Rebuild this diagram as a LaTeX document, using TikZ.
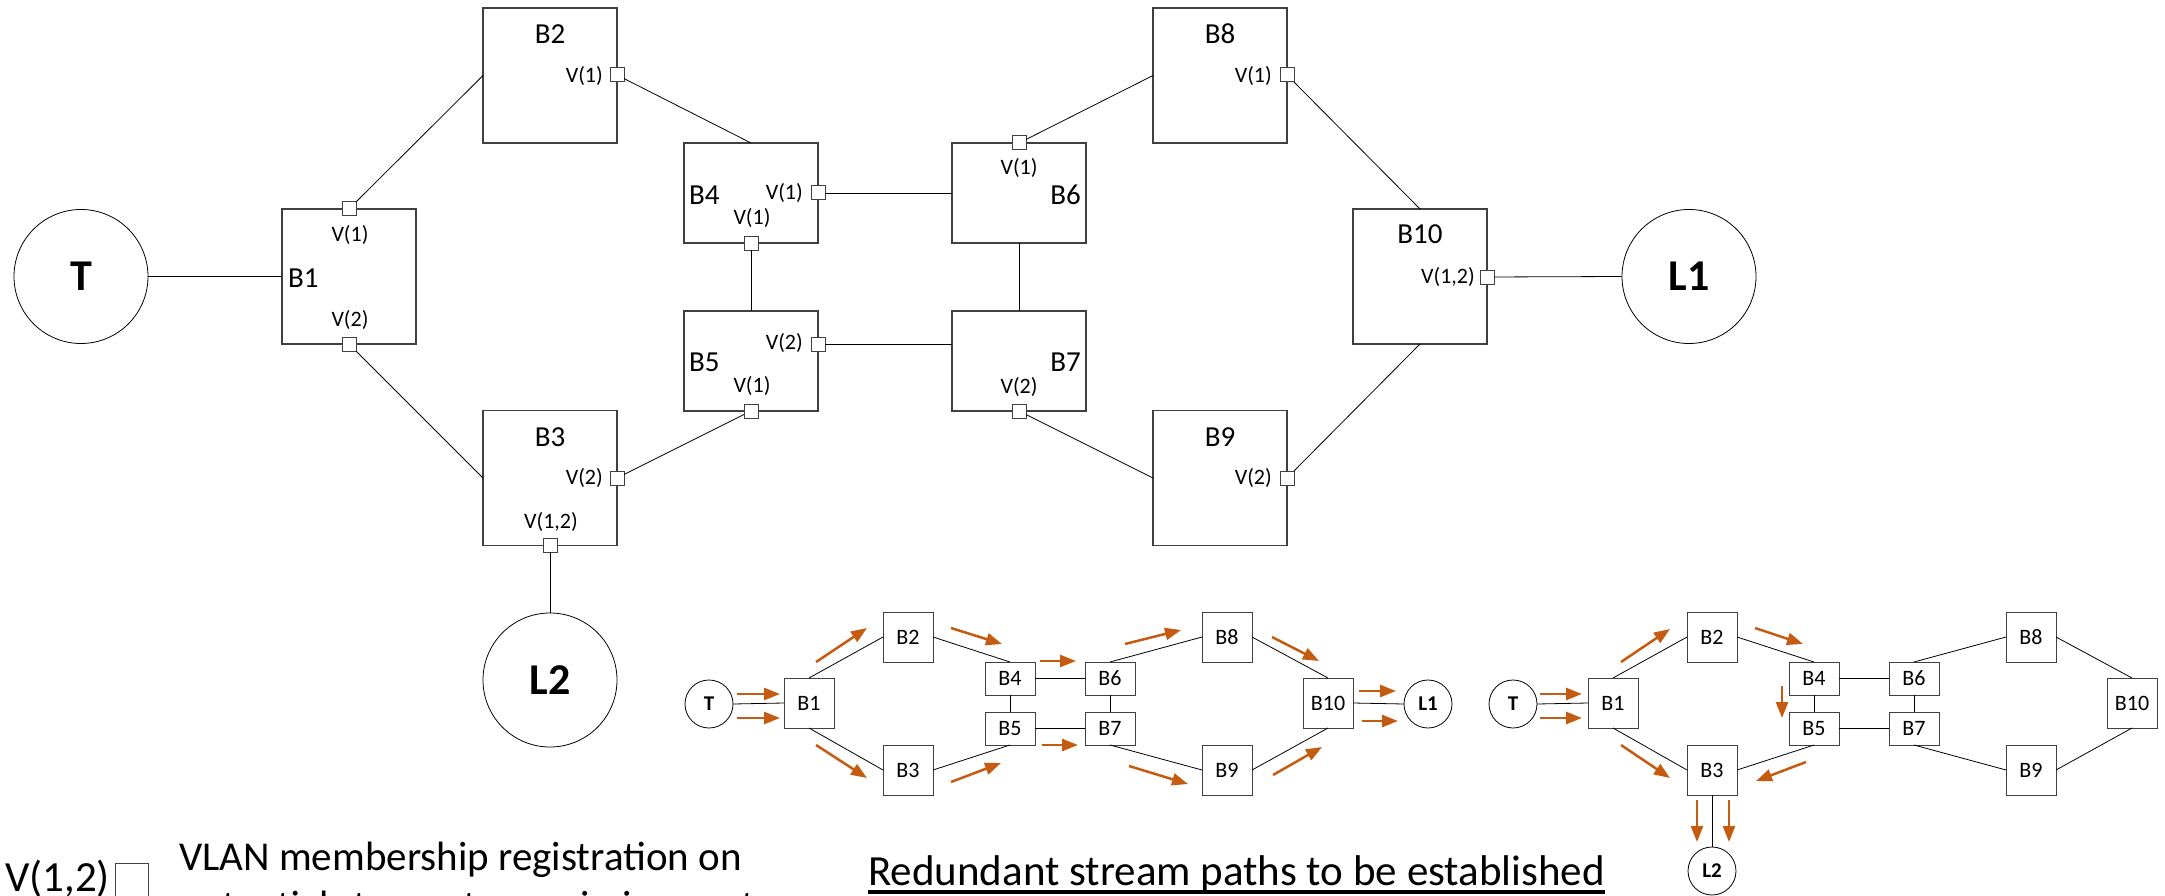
\documentclass[tikz,border=0pt]{standalone}
\usepackage{fontspec}
\setmainfont{Carlito}
\usetikzlibrary{arrows.meta}
\definecolor{flowc}{HTML}{C55A11}
\definecolor{edgec}{HTML}{404040}
\newcommand\smallnet{%
  \node[sep] (T) at (709,704) {T};
  \node[sbox] (B1) at (809,703) {B1};
  \node[sbox] (B2) at (908,637) {B2};
  \node[sbox] (B3) at (908,770) {B3};
  \node[smbox] (B4) at (1010,678.5) {B4};
  \node[smbox] (B5) at (1010,728.5) {B5};
  \node[smbox] (B6) at (1110,678.5) {B6};
  \node[smbox] (B7) at (1110,728.5) {B7};
  \node[sbox] (B8) at (1227,637) {B8};
  \node[sbox] (B9) at (1227,770) {B9};
  \node[sbox] (B10) at (1328,703) {B10};
  \draw[slink] (T.east) -- (B1.west);
  \draw[slink] (B1.north) -- (B2.west);
  \draw[slink] (B1.south) -- (B3.west);
  \draw[slink] (B2.east) -- (B4.north);
  \draw[slink] (B3.east) -- (B5.south);
  \draw[slink] (B4.east) -- (B6.west);
  \draw[slink] (B4.south) -- (B5.north);
  \draw[slink] (B5.east) -- (B7.west);
  \draw[slink] (B6.south) -- (B7.north);
  \draw[slink] (B6.north) -- (B8.west);
  \draw[slink] (B7.south) -- (B9.west);
  \draw[slink] (B8.east) -- (B10.north);
  \draw[slink] (B9.east) -- (B10.south);
}
\begin{document}
\begin{tikzpicture}[x=1pt,y=-1pt,
  bigbox/.style={draw=edgec,line width=1.3pt,minimum width=134pt,minimum height=135pt,inner sep=0pt,outer sep=0pt},
  midbox/.style={bigbox,minimum height=100pt},
  endpt/.style={circle,draw,line width=0.8pt,minimum size=134pt,inner sep=0pt,font=\fontsize{44}{52}\selectfont\bfseries},
  port/.style={draw=edgec,fill=white,line width=1pt,minimum size=14pt,inner sep=0pt,outer sep=0pt},
  lbl/.style={font=\fontsize{29}{34}\selectfont,inner sep=0pt},
  plbl/.style={font=\fontsize{22}{26}\selectfont,inner sep=0pt},
  link/.style={line width=0.8pt},
  sbox/.style={draw=edgec,line width=1pt,minimum width=50pt,minimum height=50pt,inner sep=0pt,outer sep=0pt,font=\fontsize{22}{26}\selectfont},
  smbox/.style={sbox,minimum height=33pt},
  sep/.style={circle,draw,line width=0.8pt,minimum size=48pt,inner sep=0pt,outer sep=0pt,font=\fontsize{21}{25}\selectfont\bfseries},
  slink/.style={line width=0.8pt},
  flow/.style={flowc,line width=2.5pt,-{Triangle[length=16pt,width=12pt]}},
  big/.style={font=\fontsize{41}{49}\selectfont,inner sep=0pt}
]
\useasboundingbox (0,0) rectangle (2165,896);
\clip (0,0) rectangle (2165,896);

% ---------- main network ----------
\node[endpt] (T) at (81,276.5) {T};
\node[bigbox] (B1) at (349,276.5) {};
\node[bigbox] (B2) at (550,75.5) {};
\node[bigbox] (B3) at (550,478) {};
\node[midbox] (B4) at (751,193) {};
\node[midbox] (B5) at (751,361) {};
\node[midbox] (B6) at (1019,193) {};
\node[midbox] (B7) at (1019,361) {};
\node[bigbox] (B8) at (1220,75.5) {};
\node[bigbox] (B9) at (1220,478) {};
\node[bigbox] (B10) at (1420,276.5) {};
\node[endpt] (L1) at (1689,276.5) {L1};
\node[endpt] (L2) at (550,680) {L2};

\node[lbl,anchor=west] (B1t) at (288,278) {B1};
\node[lbl] (B2t) at (550,34) {B2};
\node[lbl] (B3t) at (550,437) {B3};
\node[lbl,anchor=west] (B4t) at (689,195) {B4};
\node[lbl,anchor=west] (B5t) at (689,362) {B5};
\node[lbl,anchor=east] (B6t) at (1081,195) {B6};
\node[lbl,anchor=east] (B7t) at (1081,362) {B7};
\node[lbl] (B8t) at (1220,34) {B8};
\node[lbl] (B9t) at (1220,437) {B9};
\node[lbl] (B10t) at (1420,234) {B10};

% ports
\node[port] (p1a) at (349,209) {};
\node[port] (p1b) at (349,344) {};
\node[port] (p2) at (617,75) {};
\node[port] (p3a) at (617,478) {};
\node[port] (p3b) at (550,545) {};
\node[port] (p4a) at (818,193) {};
\node[port] (p4b) at (751,243) {};
\node[port] (p5a) at (818,344) {};
\node[port] (p5b) at (751,411) {};
\node[port] (p6) at (1019,143) {};
\node[port] (p7) at (1019,411) {};
\node[port] (p8) at (1287,75) {};
\node[port] (p9) at (1287,478) {};
\node[port] (p10) at (1487,277) {};

% port labels
\node[plbl] (v1a) at (350,235) {V(1)};
\node[plbl] (v1b) at (350,320) {V(2)};
\node[plbl,anchor=east] (v2) at (603,76) {V(1)};
\node[plbl,anchor=east] (v3a) at (603,478) {V(2)};
\node[plbl] (v3b) at (551,522) {V(1,2)};
\node[plbl,anchor=east] (v4a) at (803,193) {V(1)};
\node[plbl] (v4b) at (752,218) {V(1)};
\node[plbl,anchor=east] (v5a) at (803,343) {V(2)};
\node[plbl] (v5b) at (752,386) {V(1)};
\node[plbl] (v6) at (1019,168) {V(1)};
\node[plbl] (v7) at (1019,387) {V(2)};
\node[plbl,anchor=east] (v8) at (1272,76) {V(1)};
\node[plbl,anchor=east] (v9) at (1272,478) {V(2)};
\node[plbl,anchor=east] (v10) at (1475,277) {V(1,2)};

% links
\draw[link] (T.east) -- (B1.west);
\draw[link] (p1a) -- (B2.west);
\draw[link] (p1b) -- (B3.west);
\draw[link] (p2) -- (B4.north);
\draw[link] (p3a) -- (p5b);
\draw[link] (p4a) -- (B6.west);
\draw[link] (p4b) -- (B5.north);
\draw[link] (p5a) -- (p5a -| B7.west);
\draw[link] (p6) -- (B8.west);
\draw[link] (B6.south) -- (B7.north);
\draw[link] (p7) -- (B9.west);
\draw[link] (p8) -- (B10.north);
\draw[link] (p9) -- (B10.south);
\draw[link] (p10) -- (L1.west);
\draw[link] (p3b) -- (L2.north);

% ---------- small network 1 ----------
\begin{scope}[name prefix=a-]
  \smallnet
  \node[sep] (L1) at (1428,704) {L1};
  \draw[slink] (B10.east) -- (L1.west);
\end{scope}
\draw[flow] (737,694) -- (780,694);
\draw[flow] (737,718) -- (780,718);
\draw[flow] (816,662) -- (867,628);
\draw[flow] (951,628) -- (1002,644);
\draw[flow] (1040,661) -- (1076,661);
\draw[flow] (1125,644) -- (1181,630);
\draw[flow] (1272,637) -- (1319,661);
\draw[flow] (1359,691) -- (1396,691);
\draw[flow] (1362,721) -- (1398,721);
\draw[flow] (816,745) -- (867,778);
\draw[flow] (951,782) -- (1001,763);
\draw[flow] (1042,745) -- (1078,745);
\draw[flow] (1129,766) -- (1188,784);
\draw[flow] (1273,775) -- (1322,747);

% ---------- small network 2 ----------
\begin{scope}[name prefix=b-,shift={(804,0)}]
  \smallnet
  \node[sep] (L2) at (908,871) {L2};
  \draw[slink] (B3.south) -- (L2.north);
\end{scope}
\draw[flow] (1540,694) -- (1582,694);
\draw[flow] (1540,718) -- (1582,718);
\draw[flow] (1621,662) -- (1670,629);
\draw[flow] (1755,628) -- (1803,644);
\draw[flow] (1782,686) -- (1782,718);
\draw[flow] (1621,745) -- (1670,778);
\draw[flow] (1806,762) -- (1756,781);
\draw[flow] (1697,800) -- (1697,842);
\draw[flow] (1729,800) -- (1729,842);

% ---------- legend and title ----------
\node[big,font=\fontsize{43}{50}\selectfont,anchor=base west] (legv) at (5,891) {V(1,2)};
\node[draw=edgec,line width=1pt,minimum size=33pt,inner sep=0pt,anchor=north west] (legsq) at (115,863) {};
\node[big,anchor=base west] (leg1) at (179,870) {VLAN membership registration on};
\node[big,anchor=base west] (leg2) at (179,919) {potential stream transmission ports};
\node[big,font=\fontsize{43}{50}\selectfont,anchor=base west] (title) at (868,885) {Redundant stream paths to be established};
\draw[line width=3.5pt] ([yshift=-7pt]title.base west) -- ([yshift=-7pt]title.base east);
\end{tikzpicture}
\end{document}
